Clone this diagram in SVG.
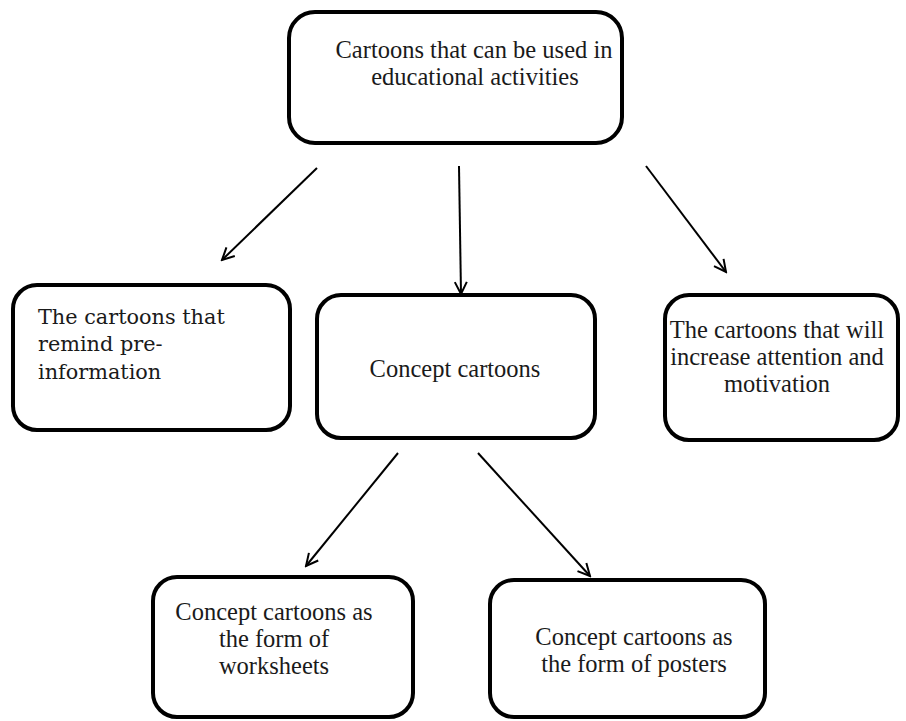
<svg xmlns="http://www.w3.org/2000/svg" width="906" height="721" viewBox="0 0 906 721">
  <style>
    .box { fill: #ffffff; stroke: #000000; stroke-width: 4; }
    .t { font-family: "Liberation Serif", "Times New Roman", serif; font-size: 24.5px; fill: #1a1a1a; text-anchor: middle; }
    .c { font-family: "DejaVu Serif", "Liberation Serif", serif; font-size: 20.8px; fill: #1a1a1a; }
    .conn line { stroke: #000000; stroke-width: 2; marker-end: url(#arr); }
  </style>
  <defs>
    <marker id="arr" markerUnits="userSpaceOnUse" markerWidth="16" markerHeight="16" viewBox="0 0 16 16" refX="14" refY="8" orient="auto">
      <path d="M2,2 L14,8 L2,14" fill="none" stroke="#000000" stroke-width="2"/>
    </marker>
  </defs>
  <rect width="906" height="721" fill="#ffffff"/>

  <g id="connectors" class="conn">
    <line x1="317" y1="168" x2="222" y2="260"/>
    <line x1="459" y1="166" x2="461" y2="294"/>
    <line x1="646" y1="166" x2="726" y2="272"/>
    <line x1="398" y1="453" x2="306" y2="566"/>
    <line x1="478" y1="453" x2="590" y2="576"/>
  </g>

  <g id="root">
    <rect class="box" x="289" y="12" width="333" height="131" rx="26"/>
    <text class="t" x="474" y="58">Cartoons that can be used in</text>
    <text class="t" x="475" y="85">educational activities</text>
  </g>

  <g id="reminder">
    <rect class="box" x="13" y="285" width="277" height="145" rx="24"/>
    <text class="c" x="38" y="324">The cartoons that</text>
    <text class="c" x="38" y="351">remind pre-</text>
    <text class="c" x="38" y="379">information</text>
  </g>

  <g id="concept">
    <rect class="box" x="317" y="295" width="278" height="143" rx="24"/>
    <text class="t" x="455" y="377">Concept cartoons</text>
  </g>

  <g id="attention">
    <rect class="box" x="665" y="295" width="233" height="145" rx="24"/>
    <text class="t" x="777" y="338">The cartoons that will</text>
    <text class="t" x="777" y="365">increase attention and</text>
    <text class="t" x="777" y="392">motivation</text>
  </g>

  <g id="worksheets">
    <rect class="box" x="153" y="577" width="260" height="140" rx="24"/>
    <text class="t" x="274" y="620">Concept cartoons as</text>
    <text class="t" x="274" y="647">the form of</text>
    <text class="t" x="274" y="674">worksheets</text>
  </g>

  <g id="posters">
    <rect class="box" x="490" y="580" width="275" height="137" rx="24"/>
    <text class="t" x="634" y="645">Concept cartoons as</text>
    <text class="t" x="634" y="672">the form of posters</text>
  </g>
</svg>
